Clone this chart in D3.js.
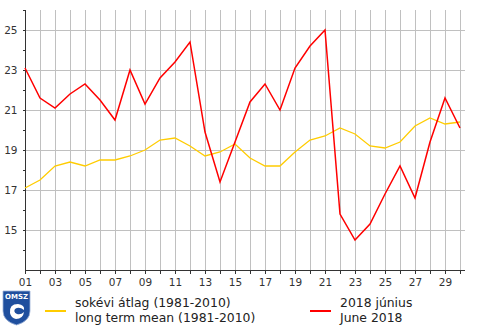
<!DOCTYPE html>
<html><head><meta charset="utf-8">
<script src="https://cdn.jsdelivr.net/npm/d3@7"></script>
<style>body{margin:0;background:#fff}svg{display:block}</style>
</head><body>
<script>
const days = d3.range(1, 31);
const dayLabels = days.map(d => String(d).padStart(2, "0"));
const meanValues = [17.1,17.5,18.2,18.4,18.2,18.5,18.5,18.7,19.0,19.5,19.6,19.2,18.7,18.9,19.3,18.6,18.2,18.2,18.9,19.5,19.7,20.1,19.8,19.2,19.1,19.4,20.2,20.6,20.3,20.4];
const juneValues = [23.1,21.6,21.1,21.8,22.3,21.5,20.5,23.0,21.3,22.6,23.4,24.4,19.9,17.4,19.4,21.4,22.3,21.0,23.1,24.2,25.0,15.8,14.5,15.3,16.8,18.2,16.6,19.4,21.6,20.1];
const yTicks = [15,17,19,21,23,25];
const legendItems = [
  {color:"#ffcc00", lines:["sokévi átlag (1981-2010)","long term mean (1981-2010)"]},
  {color:"#ff0000", lines:["2018 június","June 2018"]}
];

const W = 490, H = 330;
const svg = d3.select("body").append("svg").attr("width", W).attr("height", H);
const x = d3.scaleLinear().domain([1, 30]).range([25, 460]);
const y = d3.scaleLinear().domain([13, 26]).range([270, 10]);
const xRight = 465;
const font = "DejaVu Sans, Verdana, sans-serif";

// grid
const g = svg.append("g").attr("shape-rendering","crispEdges");
g.selectAll(".vg").data(days.slice(1)).enter().append("line")
  .attr("x1", d => Math.round(x(d))+0.5).attr("x2", d => Math.round(x(d))+0.5)
  .attr("y1", y(26)).attr("y2", y(13)).attr("stroke","#c0c0c0");
g.selectAll(".hg").data(yTicks).enter().append("line")
  .attr("x1", x(1)).attr("x2", xRight)
  .attr("y1", d => Math.round(y(d))+0.5).attr("y2", d => Math.round(y(d))+0.5).attr("stroke","#c0c0c0");

// axes
const yAxis = d3.axisLeft(y).tickValues(d3.range(14, 27)).tickSize(3).tickFormat(d => yTicks.includes(d) ? d : "");
const ya = svg.append("g").attr("transform", `translate(${x(1)+0.5},0)`).call(yAxis);
ya.select(".domain").remove();
ya.append("line").attr("x1",0).attr("x2",0).attr("y1",y(26)).attr("y2",y(13)).attr("stroke","#333");
ya.selectAll("line").attr("stroke","#333").attr("shape-rendering","crispEdges");
ya.selectAll("text").attr("font-family",font).attr("font-size","10.5px").attr("fill","#333").attr("x",-8);

const xAxis = d3.axisBottom(x).tickValues(days).tickSize(3).tickSizeOuter(0)
  .tickFormat((d,i) => d % 2 === 1 ? dayLabels[i] : "");
const xa = svg.append("g").attr("transform", `translate(0,${y(13)+0.5})`).call(xAxis);
xa.select(".domain").remove();
xa.append("line").attr("x1",x(1)).attr("x2",xRight).attr("y1",0).attr("y2",0).attr("stroke","#333");
xa.selectAll("line").attr("stroke","#333").attr("shape-rendering","crispEdges");
xa.selectAll("text").attr("font-family",font).attr("font-size","10.5px").attr("fill","#333").attr("dy","0.9em");

// lines
const line = d3.line().x((d,i) => x(days[i])).y(d => y(d));
svg.append("path").datum(meanValues).attr("d", line).attr("fill","none").attr("stroke","#ffcc00").attr("stroke-width",1.3);
svg.append("path").datum(juneValues).attr("d", line).attr("fill","none").attr("stroke","#ff0000").attr("stroke-width",1.5);

// legend
const lx = [45, 310];
legendItems.forEach((it, i) => {
  const lg = svg.append("g");
  lg.append("line").attr("x1", lx[i]).attr("x2", lx[i]+21).attr("y1", 311).attr("y2", 311)
    .attr("stroke", it.color).attr("stroke-width", 2);
  it.lines.forEach((t, j) => {
    lg.append("text").attr("x", lx[i]+30).attr("y", 307 + j*15).text(t)
      .attr("font-family", font).attr("font-size","12.4px").attr("fill","#222");
  });
});

// logo
const logo = svg.append("g").attr("transform","translate(3,291)");
logo.append("path").attr("d","M0,0 H27 V20 Q27,30 13.5,34 Q0,30 0,20 Z").attr("fill","#1f4f9e").attr("stroke","#9db3d8").attr("stroke-width",0.8);
logo.append("text").attr("x",13.5).attr("y",8).attr("text-anchor","middle").text("OMSZ")
  .attr("font-family",font).attr("font-size","7px").attr("font-weight","bold").attr("fill","#fff");
logo.append("path").attr("d","M7,22 Q6,13 15,13 Q22,14 21,19 Q16,15 12,18 Q10,21 14,23 Q18,24 21,21 Q20,28 13,28 Q8,27 7,22 Z").attr("fill","#fff");
logo.append("circle").attr("cx",14).attr("cy",20).attr("r",2).attr("fill","#1f4f9e");
</script>
</body></html>
